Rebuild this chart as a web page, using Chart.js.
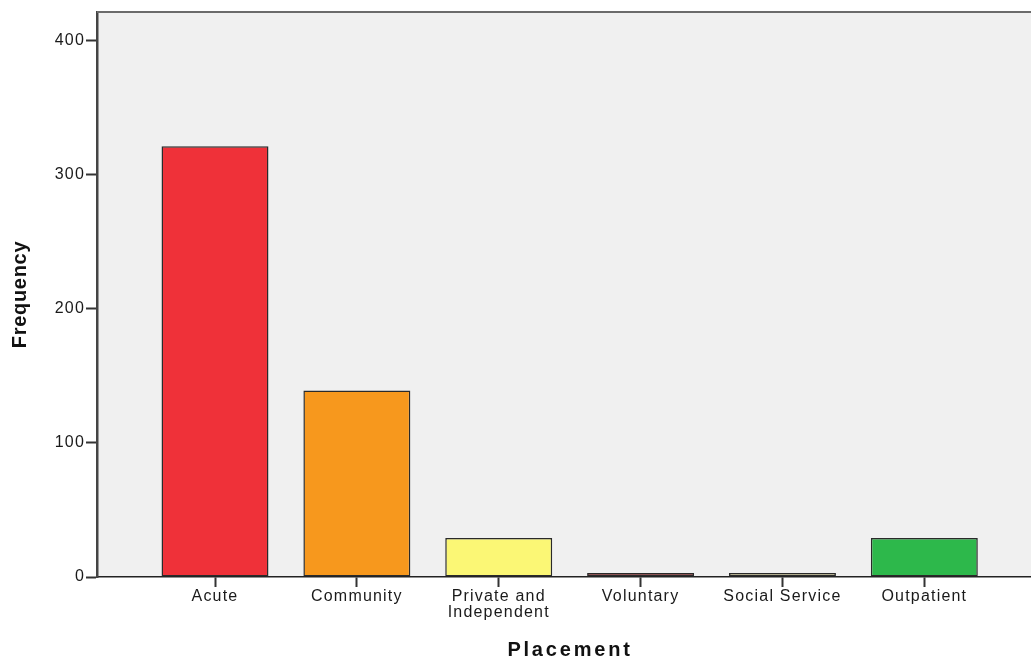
<!DOCTYPE html>
<html>
<head>
<meta charset="utf-8">
<script src="https://cdn.jsdelivr.net/npm/chart.js@4"></script>
<style>
  html, body { margin: 0; padding: 0; background: #ffffff; }
  #wrap { width: 1031px; height: 661px; }
</style>
</head>
<body>
<div id="wrap"><canvas id="c" width="1031" height="661"></canvas></div>
<script>
const categories = ["Acute", "Community", ["Private and", "Independent"], "Voluntary", "Social Service", "Outpatient"];
const frequencies = [321, 139, 29, 3, 3, 29];
const barColors = ["#EF3139", "#F7981D", "#FBF775", "#8E1A1C", "#D3CA8D", "#2DB84B"];
const yTicks = [0, 100, 200, 300, 400];

const points = frequencies.map((v, i) => ({ x: i, y: v }));
const BASE_SPACING = '1.2px';

const spacing = {
  id: 'spacing',
  beforeLayout(chart) { chart.ctx.letterSpacing = BASE_SPACING; },
  beforeDraw(chart) {
    const { ctx, chartArea: a } = chart;
    ctx.save();
    ctx.fillStyle = '#f0f0f0';
    ctx.fillRect(a.left, a.top, a.right - a.left, a.bottom - a.top);
    ctx.restore();
    ctx.letterSpacing = BASE_SPACING;
  },
  afterDraw(chart) {
    const { ctx, chartArea: a } = chart;
    ctx.save();
    ctx.strokeStyle = '#6b6b6b';
    ctx.lineWidth = 2;
    ctx.beginPath();
    ctx.moveTo(a.left, a.top);
    ctx.lineTo(a.right, a.top);
    ctx.stroke();
    ctx.restore();
  }
};

function withTitleSpacing(scale, sp, dx) {
  if (scale._spWrapped) return;
  scale._spWrapped = true;
  const orig = scale.drawTitle;
  scale.drawTitle = function () {
    const ctx = this.ctx;
    const prev = ctx.letterSpacing;
    ctx.save();
    ctx.translate(dx, 0);
    ctx.letterSpacing = sp;
    orig.apply(this, arguments);
    ctx.restore();
    ctx.letterSpacing = prev;
  };
}

new Chart(document.getElementById('c'), {
  type: 'bar',
  data: {
    datasets: [{
      data: points,
      backgroundColor: barColors,
      borderColor: '#2a2a2a',
      borderWidth: 1.5,
      borderSkipped: false,
      categoryPercentage: 1,
      barPercentage: 0.754
    }]
  },
  options: {
    responsive: false,
    animation: false,
    devicePixelRatio: 1,
    layout: { padding: { top: 12, right: 0, left: 0, bottom: 0 } },
    plugins: { legend: { display: false }, tooltip: { enabled: false } },
    scales: {
      x: {
        type: 'linear',
        min: -0.8318,
        max: 5.752,
        offset: false,
        afterFit(scale) { scale.height = 84; withTitleSpacing(scale, '2.8px', 6); },
        afterBuildTicks(scale) { scale.ticks = categories.map((_, i) => ({ value: i })); },
        grid: { display: true, drawOnChartArea: false, offset: false, tickLength: 10, tickColor: '#333', tickWidth: 2 },
        border: { display: true, color: '#222', width: 1.5 },
        ticks: {
          autoSkip: false,
          maxRotation: 0,
          padding: 2,
          color: '#1a1a1a',
          font: { family: 'Liberation Sans, Arial, sans-serif', size: 16, lineHeight: 1.0 },
          callback: (v) => categories[v]
        },
        title: {
          display: true,
          text: 'Placement',
          color: '#111',
          font: { family: 'Liberation Sans, Arial, sans-serif', size: 20, weight: 'bold', lineHeight: 1.0 },
          padding: { top: 0, bottom: 1 }
        }
      },
      y: {
        min: 0,
        max: 421,
        afterFit(scale) { scale.width = 97; withTitleSpacing(scale, '0.7px', 0); },
        afterBuildTicks(scale) { scale.ticks = yTicks.map(v => ({ value: v })); },
        grid: { display: true, drawOnChartArea: false, tickLength: 11, tickColor: '#333', tickWidth: 2 },
        border: { display: true, color: '#444', width: 2.5 },
        ticks: {
          padding: 1,
          color: '#1a1a1a',
          font: { family: 'Liberation Sans, Arial, sans-serif', size: 16 }
        },
        title: {
          display: true,
          text: 'Frequency',
          color: '#111',
          font: { family: 'Liberation Sans, Arial, sans-serif', size: 20, weight: 'bold', lineHeight: 1.0 },
          padding: { top: 10, bottom: 0 }
        }
      }
    }
  },
  plugins: [spacing]
});
</script>
</body>
</html>
